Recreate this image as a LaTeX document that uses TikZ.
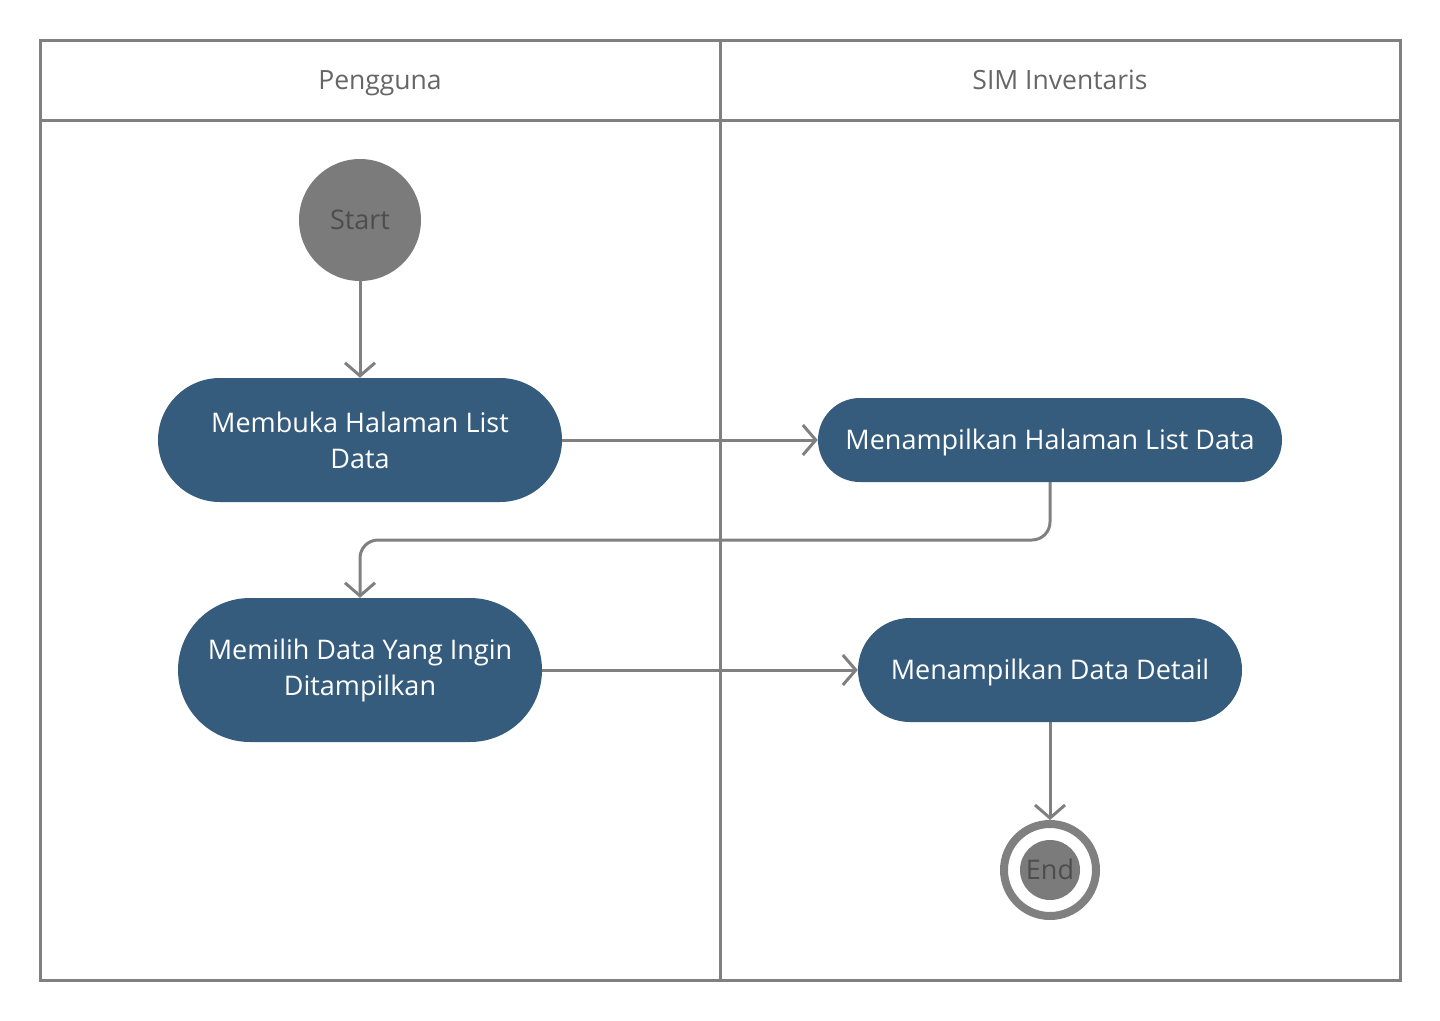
\documentclass[tikz,border=0pt]{standalone}
\usepackage{fontspec}
\setmainfont{Open Sans}
\usetikzlibrary{arrows.meta}
\definecolor{lanegray}{HTML}{808080}
\definecolor{actblue}{HTML}{355C7D}
\definecolor{termfill}{HTML}{7B7B7B}
\definecolor{termtext}{HTML}{4D4D4D}
\definecolor{headtext}{HTML}{666666}
\tikzset{
  lane/.style={draw=lanegray, line width=3pt},
  act/.style={fill=actblue, text=white, rounded corners=#1, inner sep=0pt, align=center, font=\fontsize{27}{36}\selectfont},
  oneline/.style={text height=19.3pt, text depth=0pt},
  flow/.style={draw=lanegray, line width=3pt, -{Straight Barb[length=13pt,width=30pt,line width=3pt]}},
  headlbl/.style={text=headtext, font=\fontsize{26.5}{30}\selectfont, oneline},
}
\begin{document}
\begin{tikzpicture}[x=1pt,y=-1pt]
\useasboundingbox (0,0) rectangle (1440,1020);
% swimlanes
\draw[lane] (40,40) rectangle (1400,980);
\draw[lane] (40,120) -- (1400,120);
\draw[lane] (720,40) -- (720,980);
\node[headlbl] (h1) at (380,80) {Pengguna};
\node[headlbl] (h2) at (1060,80) {SIM Inventaris};
% start
\node[circle, fill=termfill, minimum size=122pt, inner sep=0pt, text=termtext, font=\fontsize{27}{30}\selectfont, oneline] (start) at (360,220) {Start};
% activities
\node[act=62pt, minimum width=404pt, minimum height=124pt] (a1) at (360,440) {Membuka Halaman List\\Data};
\node[act=42pt, minimum width=464pt, minimum height=84pt, oneline] (a2) at (1050,440) {Menampilkan Halaman List Data};
\node[act=72pt, minimum width=364pt, minimum height=144pt] (a3) at (360,670) {Memilih Data Yang Ingin\\Ditampilkan};
\node[act=52pt, minimum width=384pt, minimum height=104pt, oneline] (a4) at (1050,670) {Menampilkan Data Detail};
% end
\node[circle, draw=lanegray, line width=8pt, minimum size=92pt, inner sep=0pt] (endo) at (1050,870) {};
\node[circle, fill=termfill, minimum size=60pt, inner sep=0pt, text=termtext, font=\fontsize{27}{30}\selectfont, oneline] (endi) at (1050,870) {End};
% connectors
\draw[flow] (start.south) -- (a1.north);
\draw[flow] (a1.east) -- (a2.west);
\draw[flow, rounded corners=18pt] (a2.south) -- (1050,540) -- (360,540) -- (a3.north);
\draw[flow] (a3.east) -- (a4.west);
\draw[flow] (a4.south) -- (endo.north);
\end{tikzpicture}
\end{document}
